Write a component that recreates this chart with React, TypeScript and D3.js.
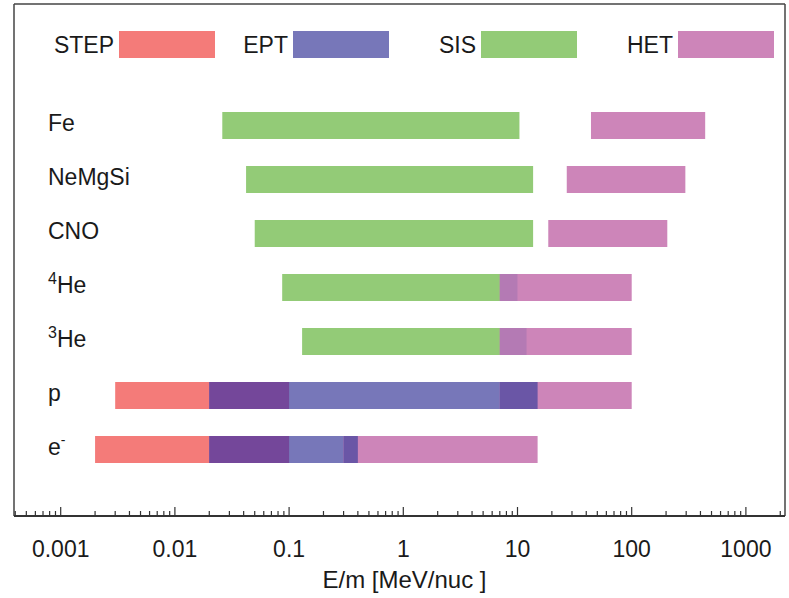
import React from "react";
import * as d3 from "d3";

const species = ["Fe", "NeMgSi", "CNO", "4He", "3He", "p", "e-"];
const instruments = ["STEP", "EPT", "SIS", "HET"];
const instrumentColors = ["#f47b79", "#7777b9", "#93cb77", "#cd85b9"];

// energy ranges [lo, hi] in MeV/nuc per species (null = not covered)
const stepRanges: ([number, number] | null)[] = [null, null, null, null, null, [0.003, 0.1], [0.002, 0.1]];
const eptRanges: ([number, number] | null)[] = [null, null, null, null, null, [0.02, 15], [0.02, 0.4]];
const sisRanges: ([number, number] | null)[] = [[0.026, 10.4], [0.042, 13.7], [0.05, 13.7], [0.087, 10], [0.13, 12], null, null];
const hetRanges: ([number, number] | null)[] = [[44, 440], [27, 295], [18.6, 205], [7, 100], [7, 100], [7, 100], [0.3, 15]];

const overlapPairs = [["STEP", "EPT"], ["EPT", "HET"], ["SIS", "HET"]];
const overlapColors = ["#74479a", "#6a56a6", "#b47ab4"];

const tickValues = [0.001, 0.01, 0.1, 1, 10, 100, 1000];
const tickLabels = ["0.001", "0.01", "0.1", "1", "10", "100", "1000"];
const axisTitle = "E/m [MeV/nuc ]";

const W = 789;
const H = 598;
const FONT = "'Liberation Sans', Arial, sans-serif";
const FS = 23;

const rangesByInstrument: Record<string, ([number, number] | null)[]> = {
  STEP: stepRanges,
  EPT: eptRanges,
  SIS: sisRanges,
  HET: hetRanges,
};

function Label({ name, x, y }: { name: string; x: number; y: number }) {
  const sup = name.match(/^(\d)(.*)$/);
  if (sup) {
    return (
      <text x={x} y={y} fontSize={FS} fontFamily={FONT} fill="#1a1a1a">
        <tspan fontSize={16} dy={-9}>{sup[1]}</tspan>
        <tspan dy={9}>{sup[2]}</tspan>
      </text>
    );
  }
  if (name.endsWith("-")) {
    return (
      <text x={x} y={y} fontSize={FS} fontFamily={FONT} fill="#1a1a1a">
        <tspan>{name.slice(0, -1)}</tspan>
        <tspan fontSize={14} dy={-10}>-</tspan>
      </text>
    );
  }
  return (
    <text x={x} y={y} fontSize={FS} fontFamily={FONT} fill="#1a1a1a">
      {name}
    </text>
  );
}

export default function App() {
  const left = 14, right = 785, top = 4, bottom = 516;
  const x = d3.scaleLog().domain([0.00039, 2200]).range([left, right]);
  const y = d3.scalePoint<string>().domain(species).range([125.5, 449.5]);
  const barH = 27;

  const [d0, d1] = x.domain();
  const minorTicks: number[] = [];
  for (let e = Math.floor(Math.log10(d0)); e <= Math.ceil(Math.log10(d1)); e++) {
    for (let k = 2; k <= 9; k++) {
      const v = k * Math.pow(10, e);
      if (v >= d0 && v <= d1) minorTicks.push(v);
    }
  }

  const bars: { key: string; x0: number; x1: number; y: number; color: string }[] = [];
  instruments.forEach((inst, ii) => {
    rangesByInstrument[inst].forEach((r, si) => {
      if (!r) return;
      bars.push({ key: inst + si, x0: x(r[0]), x1: x(r[1]), y: y(species[si])!, color: instrumentColors[ii] });
    });
  });
  overlapPairs.forEach(([a, b], pi) => {
    species.forEach((s, si) => {
      const ra = rangesByInstrument[a][si];
      const rb = rangesByInstrument[b][si];
      if (!ra || !rb) return;
      const lo = Math.max(ra[0], rb[0]);
      const hi = Math.min(ra[1], rb[1]);
      if (lo < hi) bars.push({ key: a + b + si, x0: x(lo), x1: x(hi), y: y(s)!, color: overlapColors[pi] });
    });
  });

  const legendBoxX = [119, 293, 481, 678];
  const legendBoxW = 96;

  return (
    <svg width={W} height={H} style={{ position: "absolute", left: 0, top: 0, background: "#fff" }}>
      <rect x={0} y={0} width={W} height={H} fill="#fff" />
      <line x1={left} y1={top} x2={right} y2={top} stroke="#444" strokeWidth={1.5} />
      <line x1={left} y1={top} x2={left} y2={bottom} stroke="#444" strokeWidth={1.5} />
      <line x1={right} y1={top} x2={right} y2={bottom} stroke="#444" strokeWidth={1.5} />
      <line x1={left} y1={bottom} x2={right} y2={bottom} stroke="#333" strokeWidth={2} />

      {instruments.map((inst, i) => (
        <g key={inst}>
          <rect x={legendBoxX[i]} y={31} width={legendBoxW} height={27} fill={instrumentColors[i]} />
          <text x={legendBoxX[i] - 5} y={53} textAnchor="end" fontSize={FS} fontFamily={FONT} fill="#1a1a1a">
            {inst}
          </text>
        </g>
      ))}

      {bars.map((b) => (
        <rect key={b.key} x={b.x0} y={b.y - barH / 2} width={b.x1 - b.x0} height={barH} fill={b.color} />
      ))}

      {species.map((s) => (
        <Label key={s} name={s} x={48} y={y(s)! + 5} />
      ))}

      {minorTicks.map((v) => (
        <line key={"m" + v} x1={x(v)} x2={x(v)} y1={bottom} y2={bottom - 5} stroke="#333" strokeWidth={1.2} />
      ))}
      {tickValues.map((v, i) => (
        <g key={"t" + v}>
          <line x1={x(v)} x2={x(v)} y1={bottom} y2={bottom - 9} stroke="#333" strokeWidth={1.2} />
          <text x={x(v)} y={557} textAnchor="middle" fontSize={FS} fontFamily={FONT} fill="#1a1a1a">
            {tickLabels[i]}
          </text>
        </g>
      ))}
      <text x={(left + right) / 2 + 5} y={588} textAnchor="middle" fontSize={24} fontFamily={FONT} fill="#1a1a1a">
        {axisTitle}
      </text>
    </svg>
  );
}
